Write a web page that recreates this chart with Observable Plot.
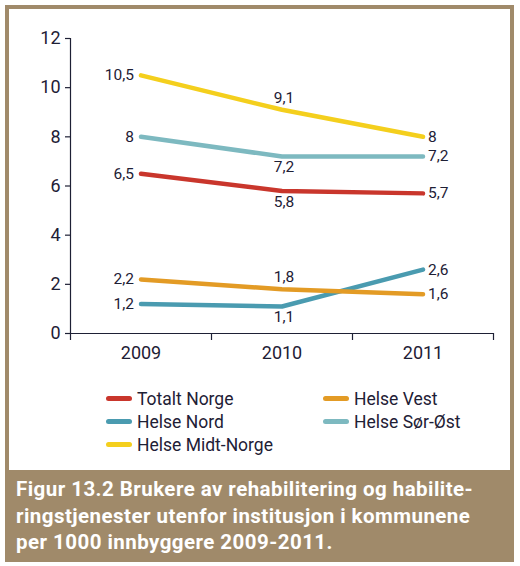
<!DOCTYPE html>
<html>
<head>
<meta charset="utf-8">
<script src="https://cdn.jsdelivr.net/npm/d3@7"></script>
<script src="https://cdn.jsdelivr.net/npm/@observablehq/plot@0.6"></script>
<style>
  html, body { margin: 0; padding: 0; background: #ffffff; }
  body { width: 520px; height: 566px; position: relative; overflow: hidden; font-family: Roboto, "Noto Sans", sans-serif; }
  #frame { position: absolute; left: 5px; top: 5px; width: 509px; height: 557px; box-sizing: border-box; background: #a08a6a; padding: 4px 4px 0 4px; }
  #inner { background: #ffffff; width: 501px; height: 461px; position: relative; }
  #chart svg { display: block; }
  #legend { position: absolute; left: 97px; top: 378px; display: grid; grid-template-columns: 217px 200px; grid-auto-rows: 23px; }
  .item { display: flex; align-items: center; font-size: 17.5px; color: #1e2035; }
  .sw { width: 26px; height: 5px; border-radius: 2.5px; margin-right: 5px; flex: none; }
  #caption { color: #ffffff; font-weight: 700; font-size: 20.5px; letter-spacing: 0.45px; line-height: 26.5px; padding: 6px 0 0 7px; white-space: nowrap; }
</style>
</head>
<body>
<div id="frame">
  <div id="inner">
    <div id="chart"></div>
    <div id="legend"></div>
  </div>
  <div id="caption">Figur 13.2 Brukere av rehabilitering og habilite-<br>ringstjenester utenfor institusjon i kommunene<br>per 1000 innbyggere 2009-2011.</div>
</div>
<script>
const years = [2009, 2010, 2011];
const seriesNames = ["Totalt Norge", "Helse Vest", "Helse Nord", "Helse Sør-Øst", "Helse Midt-Norge"];
const totaltNorge = [6.5, 5.8, 5.7];
const helseVest = [2.2, 1.8, 1.6];
const helseNord = [1.2, 1.1, 2.6];
const helseSorOst = [8, 7.2, 7.2];
const helseMidtNorge = [10.5, 9.1, 8];
const yTicks = [0, 2, 4, 6, 8, 10, 12];

const seriesValues = {
  "Totalt Norge": totaltNorge,
  "Helse Vest": helseVest,
  "Helse Nord": helseNord,
  "Helse Sør-Øst": helseSorOst,
  "Helse Midt-Norge": helseMidtNorge
};
const colors = {
  "Totalt Norge": "#c9362c",
  "Helse Vest": "#e39b25",
  "Helse Nord": "#4a9bb0",
  "Helse Sør-Øst": "#7db9c0",
  "Helse Midt-Norge": "#f4cf1d"
};
// drawing order (later on top)
const drawOrder = ["Helse Nord", "Helse Vest", "Totalt Norge", "Helse Sør-Øst", "Helse Midt-Norge"];
// middle-year label placement
const aboveMid = new Set(["Helse Midt-Norge", "Helse Vest"]);

const rows = [];
for (const s of drawOrder) {
  seriesValues[s].forEach((v, i) => rows.push({series: s, year: years[i], value: v}));
}
const fmt = v => String(v).replace(".", ",");
const ink = "#1e2035";

const bounds = [years[0] - 0.5, ...years.map(y => y + 0.5)];

const chart = Plot.plot({
  width: 501,
  height: 370,
  marginTop: 29,
  marginBottom: 46,
  marginLeft: 61,
  marginRight: 17,
  style: {fontFamily: "Roboto, 'Noto Sans', sans-serif", color: ink, background: "transparent"},
  x: {domain: [years[0] - 0.5, years[years.length - 1] + 0.5]},
  y: {domain: [0, 12]},
  marks: [
    Plot.axisY({ticks: yTicks, tickSize: 5, tickPadding: 5, fontSize: 18, label: null, stroke: ink, strokeOpacity: 1, strokeWidth: 1.2}),
    Plot.axisX({ticks: bounds, tickSize: 7, tickFormat: () => "", label: null, stroke: ink, strokeOpacity: 1, strokeWidth: 1.2}),
    Plot.axisX({ticks: years, tickSize: 0, tickPadding: 13, tickFormat: d => String(d), fontSize: 18, label: null}),
    Plot.ruleX([years[0] - 0.5], {y1: 0, y2: 12, stroke: ink, strokeWidth: 1.2}),
    Plot.ruleY([0], {stroke: ink, strokeWidth: 1.2}),
    Plot.line(rows, {x: "year", y: "value", z: "series", stroke: d => colors[d.series], strokeWidth: 4.5, strokeLinecap: "round", strokeLinejoin: "round"}),
    Plot.text(rows.filter(d => d.year === years[0]), {x: "year", y: "value", text: d => fmt(d.value), textAnchor: "end", dx: -7, fontSize: 15.5, fill: ink}),
    Plot.text(rows.filter(d => d.year === years[2]), {x: "year", y: "value", text: d => fmt(d.value), textAnchor: "start", dx: 5, fontSize: 15.5, fill: ink}),
    Plot.text(rows.filter(d => d.year === years[1] && aboveMid.has(d.series)), {x: "year", y: "value", text: d => fmt(d.value), dx: 2, dy: -12, fontSize: 15.5, fill: ink}),
    Plot.text(rows.filter(d => d.year === years[1] && !aboveMid.has(d.series)), {x: "year", y: "value", text: d => fmt(d.value), dx: 2, dy: 11, fontSize: 15.5, fill: ink})
  ]
});
document.getElementById("chart").appendChild(chart);

const legend = document.getElementById("legend");
for (const s of seriesNames) {
  const it = document.createElement("div");
  it.className = "item";
  const sw = document.createElement("span");
  sw.className = "sw";
  sw.style.background = colors[s];
  const t = document.createElement("span");
  t.textContent = s;
  it.appendChild(sw);
  it.appendChild(t);
  legend.appendChild(it);
}
</script>
</body>
</html>
